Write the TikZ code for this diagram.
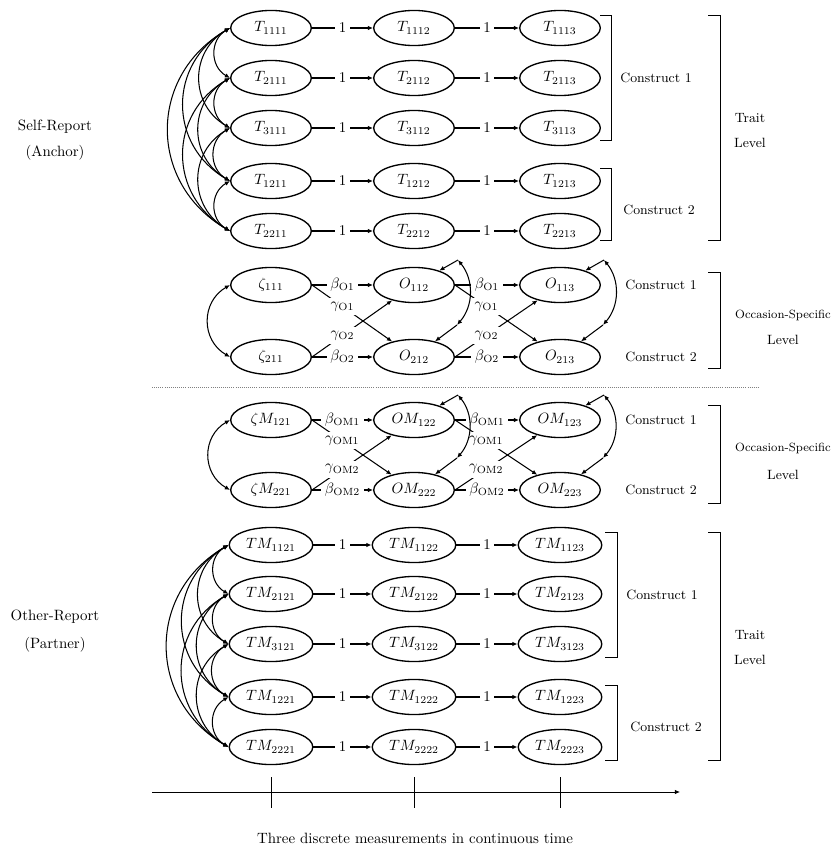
\documentclass[tikz,border=0pt]{standalone}
\usepackage{tikz}
\usetikzlibrary{arrows.meta,shapes.geometric}

\begin{document}
\begin{tikzpicture}[x=0.67pt, y=-0.67pt, >={Latex[length=3.5pt,width=3pt]},
    latent/.style ={ellipse, draw, line width=0.9pt, minimum width=54pt, minimum height=23.5pt, inner sep=1pt},
    wide/.style ={latent, minimum width=56pt},
    link/.style ={line width=0.7pt},
    thin line/.style ={line width=0.5pt},
    coef/.style ={fill=white, inner sep=2.5pt},
    note/.style ={font=\small},
    curl/.style ={bend right=60, looseness=1.2}]
   \useasboundingbox (0,0) rectangle (836,850);
   % self-report, trait level
   \node[latent] (T1111) at (271,28)  {$T_{1111}$};
   \node[latent] (T1112) at (414,28)  {$T_{1112}$};
   \node[latent] (T1113) at (560,28)  {$T_{1113}$};
   \node[latent] (T2111) at (271,78)  {$T_{2111}$};
   \node[latent] (T2112) at (414,78)  {$T_{2112}$};
   \node[latent] (T2113) at (560,78)  {$T_{2113}$};
   \node[latent] (T3111) at (271,128) {$T_{3111}$};
   \node[latent] (T3112) at (414,128) {$T_{3112}$};
   \node[latent] (T3113) at (560,128) {$T_{3113}$};
   \node[latent] (T1211) at (271,181) {$T_{1211}$};
   \node[latent] (T1212) at (414,181) {$T_{1212}$};
   \node[latent] (T1213) at (560,181) {$T_{1213}$};
   \node[latent] (T2211) at (271,231) {$T_{2211}$};
   \node[latent] (T2212) at (414,231) {$T_{2212}$};
   \node[latent] (T2213) at (560,231) {$T_{2213}$};
   \draw[link,->] (T1111) -- node[coef] {1} (T1112);
   \draw[link,->] (T1112) -- node[coef] {1} (T1113);
   \draw[link,->] (T2111) -- node[coef] {1} (T2112);
   \draw[link,->] (T2112) -- node[coef] {1} (T2113);
   \draw[link,->] (T3111) -- node[coef] {1} (T3112);
   \draw[link,->] (T3112) -- node[coef] {1} (T3113);
   \draw[link,->] (T1211) -- node[coef] {1} (T1212);
   \draw[link,->] (T1212) -- node[coef] {1} (T1213);
   \draw[link,->] (T2211) -- node[coef] {1} (T2212);
   \draw[link,->] (T2212) -- node[coef] {1} (T2213);
   \draw[link,<->] (T1111.west) to[curl] (T2111.west);
   \draw[link,<->] (T1111.west) to[curl] (T3111.west);
   \draw[link,<->] (T1111.west) to[curl] (T1211.west);
   \draw[link,<->] (T1111.west) to[curl] (T2211.west);
   \draw[link,<->] (T2111.west) to[curl] (T3111.west);
   \draw[link,<->] (T2111.west) to[curl] (T1211.west);
   \draw[link,<->] (T2111.west) to[curl] (T2211.west);
   \draw[link,<->] (T3111.west) to[curl] (T1211.west);
   \draw[link,<->] (T3111.west) to[curl] (T2211.west);
   \draw[link,<->] (T1211.west) to[curl] (T2211.west);

   % self-report, occasion-specific level
   \node[latent] (Z111) at (271,285) {$\zeta_{111}$};
   \node[latent] (Z211) at (271,357) {$\zeta_{211}$};
   \node[latent] (O112) at (414,285) {$O_{112}$};
   \node[latent] (O212) at (414,357) {$O_{212}$};
   \node[latent] (O113) at (560,285) {$O_{113}$};
   \node[latent] (O213) at (560,357) {$O_{213}$};
   \draw[link,<->] (Z111.west) to[curl] (Z211.west);
   \draw[link,->] (Z111) -- node[coef] {$\beta_{\mathrm{O1}}$} (O112);
   \draw[link,->] (Z211) -- node[coef] {$\beta_{\mathrm{O2}}$} (O212);
   \draw[link,->] (Z111.east) -- node[coef,pos=0.38] {$\gamma_{\mathrm{O1}}$} (O212);
   \draw[link,->] (Z211.east) -- node[coef,pos=0.38] {$\gamma_{\mathrm{O2}}$} (O112);
   \draw[link,->] (O112) -- node[coef] {$\beta_{\mathrm{O1}}$} (O113);
   \draw[link,->] (O212) -- node[coef] {$\beta_{\mathrm{O2}}$} (O213);
   \draw[link,->] (O112.east) -- node[coef,pos=0.38] {$\gamma_{\mathrm{O1}}$} (O213);
   \draw[link,->] (O212.east) -- node[coef,pos=0.38] {$\gamma_{\mathrm{O2}}$} (O113);
   \coordinate (e112) at (458,260);
   \coordinate (e212) at (457,325);
   \coordinate (e113) at (604,260);
   \coordinate (e213) at (603,325);
   \draw[link,->] (e112) -- (O112);
   \draw[link,->] (e212) -- (O212);
   \draw[link,<->] (e112) to[bend left=40] (e212);
   \draw[link,->] (e113) -- (O113);
   \draw[link,->] (e213) -- (O213);
   \draw[link,<->] (e113) to[bend left=40] (e213);

   \draw[densely dotted, gray] (152,387) -- (760,387);

   % other-report, occasion-specific level
   \node[latent] (ZM121) at (271,420) {$\zeta M_{121}$};
   \node[latent] (ZM221) at (271,490) {$\zeta M_{221}$};
   \node[latent] (OM122) at (414,420) {$OM_{122}$};
   \node[latent] (OM222) at (414,490) {$OM_{222}$};
   \node[latent] (OM123) at (560,420) {$OM_{123}$};
   \node[latent] (OM223) at (560,490) {$OM_{223}$};
   \draw[link,<->] (ZM121.west) to[curl] (ZM221.west);
   \draw[link,->] (ZM121) -- node[coef] {$\beta_{\mathrm{OM1}}$} (OM122);
   \draw[link,->] (ZM221) -- node[coef] {$\beta_{\mathrm{OM2}}$} (OM222);
   \draw[link,->] (ZM121.east) -- node[coef,pos=0.38] {$\gamma_{\mathrm{OM1}}$} (OM222);
   \draw[link,->] (ZM221.east) -- node[coef,pos=0.38] {$\gamma_{\mathrm{OM2}}$} (OM122);
   \draw[link,->] (OM122) -- node[coef] {$\beta_{\mathrm{OM1}}$} (OM123);
   \draw[link,->] (OM222) -- node[coef] {$\beta_{\mathrm{OM2}}$} (OM223);
   \draw[link,->] (OM122.east) -- node[coef,pos=0.38] {$\gamma_{\mathrm{OM1}}$} (OM223);
   \draw[link,->] (OM222.east) -- node[coef,pos=0.38] {$\gamma_{\mathrm{OM2}}$} (OM123);
   \coordinate (em122) at (458,395);
   \coordinate (em222) at (457,458);
   \coordinate (em123) at (604,395);
   \coordinate (em223) at (603,458);
   \draw[link,->] (em122) -- (OM122);
   \draw[link,->] (em222) -- (OM222);
   \draw[link,<->] (em122) to[bend left=40] (em222);
   \draw[link,->] (em123) -- (OM123);
   \draw[link,->] (em223) -- (OM223);
   \draw[link,<->] (em123) to[bend left=40] (em223);

   % other-report, trait level
   \node[wide] (TM1121) at (271,545) {$TM_{1121}$};
   \node[wide] (TM1122) at (414,545) {$TM_{1122}$};
   \node[wide] (TM1123) at (560,545) {$TM_{1123}$};
   \node[wide] (TM2121) at (271,594) {$TM_{2121}$};
   \node[wide] (TM2122) at (414,594) {$TM_{2122}$};
   \node[wide] (TM2123) at (560,594) {$TM_{2123}$};
   \node[wide] (TM3121) at (271,644) {$TM_{3121}$};
   \node[wide] (TM3122) at (414,644) {$TM_{3122}$};
   \node[wide] (TM3123) at (560,644) {$TM_{3123}$};
   \node[wide] (TM1221) at (271,697) {$TM_{1221}$};
   \node[wide] (TM1222) at (414,697) {$TM_{1222}$};
   \node[wide] (TM1223) at (560,697) {$TM_{1223}$};
   \node[wide] (TM2221) at (271,747) {$TM_{2221}$};
   \node[wide] (TM2222) at (414,747) {$TM_{2222}$};
   \node[wide] (TM2223) at (560,747) {$TM_{2223}$};
   \draw[link,->] (TM1121) -- node[coef] {1} (TM1122);
   \draw[link,->] (TM1122) -- node[coef] {1} (TM1123);
   \draw[link,->] (TM2121) -- node[coef] {1} (TM2122);
   \draw[link,->] (TM2122) -- node[coef] {1} (TM2123);
   \draw[link,->] (TM3121) -- node[coef] {1} (TM3122);
   \draw[link,->] (TM3122) -- node[coef] {1} (TM3123);
   \draw[link,->] (TM1221) -- node[coef] {1} (TM1222);
   \draw[link,->] (TM1222) -- node[coef] {1} (TM1223);
   \draw[link,->] (TM2221) -- node[coef] {1} (TM2222);
   \draw[link,->] (TM2222) -- node[coef] {1} (TM2223);
   \draw[link,<->] (TM1121.west) to[curl] (TM2121.west);
   \draw[link,<->] (TM1121.west) to[curl] (TM3121.west);
   \draw[link,<->] (TM1121.west) to[curl] (TM1221.west);
   \draw[link,<->] (TM1121.west) to[curl] (TM2221.west);
   \draw[link,<->] (TM2121.west) to[curl] (TM3121.west);
   \draw[link,<->] (TM2121.west) to[curl] (TM1221.west);
   \draw[link,<->] (TM2121.west) to[curl] (TM2221.west);
   \draw[link,<->] (TM3121.west) to[curl] (TM1221.west);
   \draw[link,<->] (TM3121.west) to[curl] (TM2221.west);
   \draw[link,<->] (TM1221.west) to[curl] (TM2221.west);

   % brackets and labels
   \draw[thin line] (600,15) -- (611,15) -- (611,140) -- (600,140);
   \draw[thin line] (600,168) -- (611,168) -- (611,240) -- (600,240);
   \draw[thin line] (708,15) -- (720,15) -- (720,240) -- (708,240);
   \draw[thin line] (708,272) -- (720,272) -- (720,368) -- (708,368);
   \draw[thin line] (708,405) -- (720,405) -- (720,503) -- (708,503);
   \draw[thin line] (605,532) -- (617,532) -- (617,657) -- (605,657);
   \draw[thin line] (605,685) -- (617,685) -- (617,760) -- (605,760);
   \draw[thin line] (708,532) -- (720,532) -- (720,760) -- (708,760);
   \node[note] (c1T) at (656,78) {Construct 1};
   \node[note] (c2T) at (659,210) {Construct 2};
   \node[note] (trT) at (750,118) {Trait};
   \node[note] (lvT) at (750,143) {Level};
   \node[note] (c1O) at (661,285) {Construct 1};
   \node[note] (c2O) at (661,357) {Construct 2};
   \node[font=\footnotesize] (ocO) at (783,315) {Occasion-Specific};
   \node[note] (lvO) at (783,340) {Level};
   \node[note] (c1OM) at (661,420) {Construct 1};
   \node[note] (c2OM) at (661,490) {Construct 2};
   \node[font=\footnotesize] (ocOM) at (783,448) {Occasion-Specific};
   \node[note] (lvOM) at (783,475) {Level};
   \node[note] (c1TM) at (662,595) {Construct 1};
   \node[note] (c2TM) at (666,727) {Construct 2};
   \node[note] (trTM) at (750,635) {Trait};
   \node[note] (lvTM) at (750,660) {Level};
   \node (self) at (55,127) {Self-Report};
   \node (anchor) at (55,153) {(Anchor)};
   \node (other) at (55,617) {Other-Report};
   \node (partner) at (55,645) {(Partner)};

   % time axis
   \coordinate (t0) at (152,792);
   \coordinate (t1) at (680,792);
   \draw[thin line,->] (t0) -- (t1);
   \draw[thin line] (271,777) -- (271,808);
   \draw[thin line] (414,777) -- (414,808);
   \draw[thin line] (560,777) -- (560,808);
   \node (time) at (415,838) {Three discrete measurements in continuous time};
 \end{tikzpicture}
\end{document}
